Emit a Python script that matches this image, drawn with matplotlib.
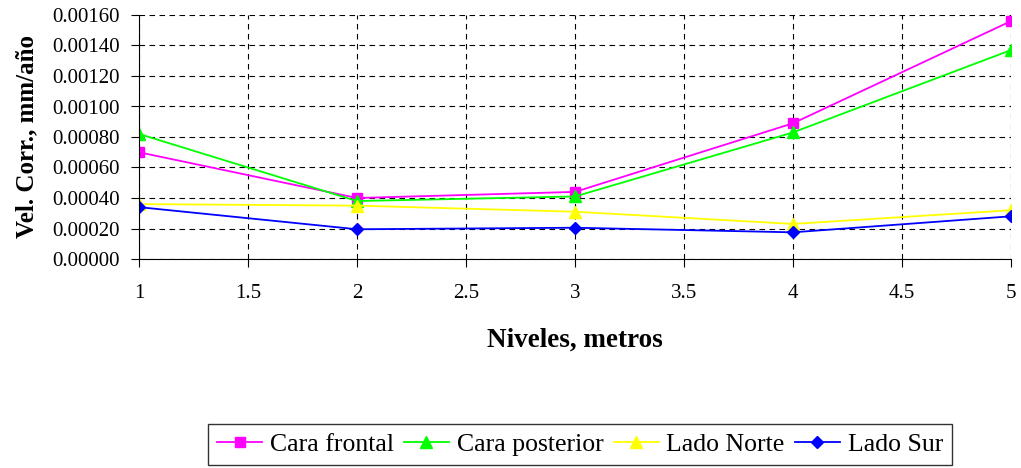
import matplotlib.pyplot as plt
from matplotlib.ticker import FormatStrFormatter

# data
niveles = [1, 2, 3, 4, 5]
cara_frontal = [0.00070, 0.00040, 0.00044, 0.00089, 0.00156]
cara_posterior = [0.00082, 0.00038, 0.00041, 0.00083, 0.00137]
lado_norte = [0.00036, 0.00035, 0.00031, 0.00023, 0.00032]
lado_sur = [0.00034, 0.000195, 0.000205, 0.000175, 0.00028]

plt.rcParams['font.family'] = ['Liberation Serif', 'DejaVu Serif']

fig = plt.figure(figsize=(10.21, 4.68), dpi=100)
ax = fig.add_axes([139 / 1021, 1 - 259 / 468, (1011 - 139) / 1021, (259 - 15) / 468])

ax.plot(niveles, cara_frontal, color='#FF00FF', marker='s', markersize=7, lw=1.3, label='Cara frontal')
ax.plot(niveles, cara_posterior, color='#00FF00', marker='^', markersize=8, lw=1.3, label='Cara posterior')
ax.plot(niveles, lado_norte, color='#FFFF00', marker='^', markersize=8, lw=1.3, label='Lado Norte')
ax.plot(niveles, lado_sur, color='#0000FF', marker='D', markersize=6.5, lw=1.3, label='Lado Sur')

ax.set_xlim(1, 5)
ax.set_ylim(0, 0.0016)
ax.set_xticks([1, 1.5, 2, 2.5, 3, 3.5, 4, 4.5, 5])
ax.set_xticklabels(['1', '1.5', '2', '2.5', '3', '3.5', '4', '4.5', '5'])
ax.set_yticks([i * 0.0002 for i in range(9)])
ax.yaxis.set_major_formatter(FormatStrFormatter('%.5f'))
ax.tick_params(labelsize=15, length=6, color='black', pad=8)
ax.tick_params(axis='x', pad=12)

ax.grid(True, color='black', linestyle=(0, (5, 4)), lw=0.8)
ax.set_axisbelow(True)
ax.spines['top'].set_visible(False)
ax.spines['right'].set_visible(False)

ax.set_ylabel('Vel. Corr., mm/año', fontsize=18, fontweight='bold', labelpad=10)
ax.set_xlabel('Niveles, metros', fontsize=19.5, fontweight='bold', labelpad=18)

leg = fig.legend(loc='upper center', bbox_to_anchor=(580 / 1021, 1 - 424 / 468), ncol=4, fontsize=18.5,
                 frameon=True, fancybox=False, edgecolor='black', handlelength=1.75,
                 handletextpad=0.3, columnspacing=0.4, borderpad=0.35, borderaxespad=0.0)
leg.get_frame().set_linewidth(1.0)

fig.savefig('out.png', dpi=100)
